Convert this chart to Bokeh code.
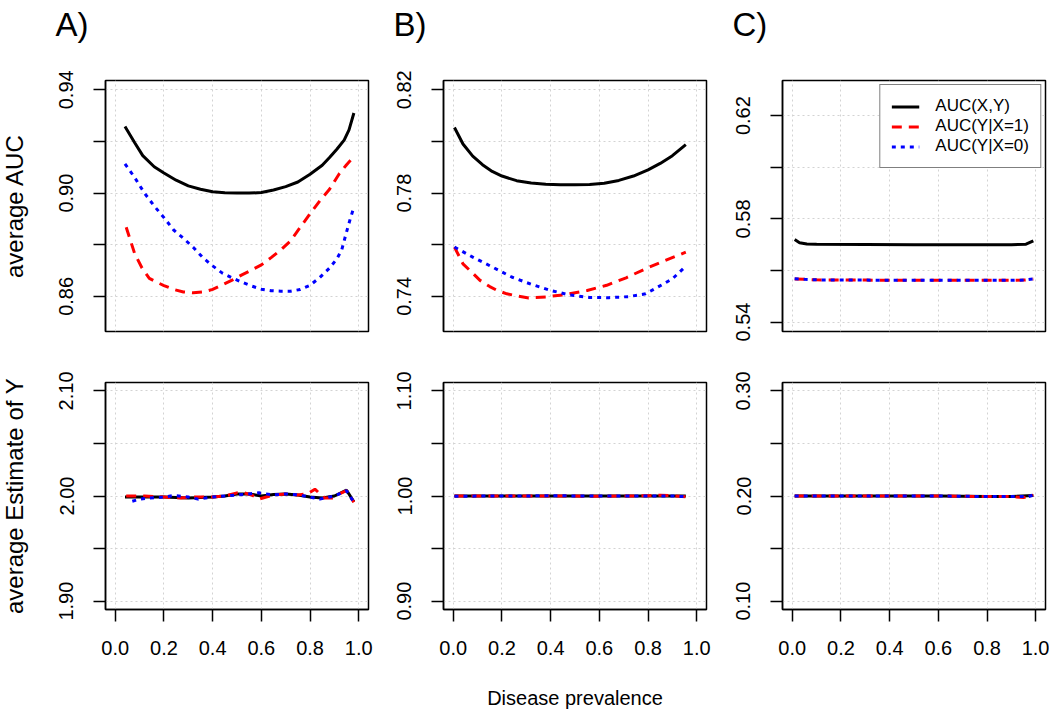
from bokeh.plotting import figure
from bokeh.models import Range1d, FixedTicker, Grid, Legend, LegendItem, PrintfTickFormatter, Title
from bokeh.layouts import column, row
from bokeh.embed import file_html
from bokeh.resources import INLINE

FONT = "Liberation Sans"

# ---------------- data ----------------
x_ticks = [0.0, 0.2, 0.4, 0.6, 0.8, 1.0]
x_lim = [0.0, 1.0]

# Panel A, top (average AUC)
a_top_black_x = [0.04, 0.08, 0.113, 0.16, 0.20, 0.25, 0.30, 0.35, 0.40, 0.45, 0.50, 0.55, 0.60, 0.65, 0.70, 0.75, 0.80, 0.85, 0.88, 0.91, 0.94, 0.96, 0.98]
a_top_black_y = [0.9258, 0.9195, 0.9145, 0.9102, 0.9078, 0.9050, 0.9028, 0.9015, 0.9005, 0.9001, 0.9000, 0.9000, 0.9002, 0.9012, 0.9025, 0.9043, 0.9073, 0.9108, 0.9138, 0.9170, 0.9205, 0.9245, 0.9310]
a_top_red_x = [0.045, 0.08, 0.11, 0.14, 0.17, 0.20, 0.24, 0.28, 0.32, 0.36, 0.40, 0.44, 0.48, 0.52, 0.56, 0.60, 0.64, 0.68, 0.72, 0.76, 0.80, 0.84, 0.88, 0.92, 0.95, 0.98]
a_top_red_y = [0.8868, 0.8765, 0.8710, 0.8670, 0.8655, 0.8642, 0.8627, 0.8617, 0.8614, 0.8617, 0.8627, 0.8645, 0.8663, 0.8683, 0.8702, 0.8722, 0.8750, 0.8780, 0.8815, 0.8868, 0.8920, 0.8970, 0.9015, 0.9075, 0.9110, 0.9141]
a_top_blue_x = [0.04, 0.08, 0.12, 0.16, 0.20, 0.24, 0.28, 0.32, 0.36, 0.40, 0.44, 0.48, 0.52, 0.56, 0.60, 0.64, 0.68, 0.72, 0.76, 0.80, 0.84, 0.88, 0.91, 0.93, 0.95, 0.965, 0.98]
a_top_blue_y = [0.9113, 0.9060, 0.9000, 0.8950, 0.8905, 0.8857, 0.8825, 0.8790, 0.8750, 0.8718, 0.8690, 0.8672, 0.8655, 0.8640, 0.8628, 0.8622, 0.8620, 0.8620, 0.8627, 0.8643, 0.8673, 0.8710, 0.8745, 0.8780, 0.8850, 0.8900, 0.8945]

# Panel B, top
b_top_black_x = [0.005, 0.04, 0.08, 0.12, 0.16, 0.20, 0.26, 0.32, 0.38, 0.44, 0.50, 0.56, 0.62, 0.68, 0.74, 0.80, 0.85, 0.90, 0.955]
b_top_black_y = [0.8054, 0.7990, 0.7943, 0.7910, 0.7884, 0.7866, 0.7848, 0.7839, 0.7834, 0.7832, 0.7832, 0.7833, 0.7838, 0.7849, 0.7866, 0.7890, 0.7915, 0.7945, 0.7988]
b_top_red_x = [0.005, 0.04, 0.08, 0.11, 0.15, 0.18, 0.22, 0.25, 0.31, 0.38, 0.46, 0.55, 0.63, 0.71, 0.79, 0.87, 0.955]
b_top_red_y = [0.7591, 0.7526, 0.7490, 0.7462, 0.7438, 0.7423, 0.7410, 0.7404, 0.7394, 0.7398, 0.7407, 0.7423, 0.7443, 0.7472, 0.7507, 0.7539, 0.7571]
b_top_blue_x = [0.005, 0.08, 0.16, 0.24, 0.32, 0.40, 0.48, 0.56, 0.64, 0.72, 0.79, 0.84, 0.90, 0.955]
b_top_blue_y = [0.7591, 0.7552, 0.7514, 0.7475, 0.7447, 0.7423, 0.7405, 0.7396, 0.7395, 0.7399, 0.7410, 0.7436, 0.7468, 0.7517]

# Panel C, top
c_top_black_x = [0.01, 0.03, 0.06, 0.10, 0.30, 0.50, 0.70, 0.90, 0.96, 0.99]
c_top_black_y = [0.5720, 0.5708, 0.5703, 0.5702, 0.5701, 0.5700, 0.5700, 0.5700, 0.5702, 0.5715]
c_top_red_x = [0.01, 0.05, 0.10, 0.30, 0.50, 0.70, 0.90, 0.95, 0.99]
c_top_red_y = [0.5567, 0.5566, 0.5564, 0.5563, 0.5562, 0.5562, 0.5562, 0.5563, 0.5567]
c_top_blue_x = [0.01, 0.05, 0.10, 0.30, 0.50, 0.70, 0.90, 0.95, 0.99]
c_top_blue_y = [0.5568, 0.5566, 0.5564, 0.5563, 0.5562, 0.5562, 0.5562, 0.5563, 0.5568]

# Panel A, bottom (average estimate of Y)
a_bot_black_x = [0.04, 0.10, 0.20, 0.30, 0.40, 0.45, 0.50, 0.55, 0.60, 0.65, 0.70, 0.75, 0.80, 0.85, 0.90, 0.95, 0.98]
a_bot_black_y = [1.999, 1.999, 1.999, 1.998, 1.999, 2.000, 2.002, 2.002, 2.000, 2.0015, 2.002, 2.001, 1.999, 1.998, 2.000, 2.0055, 1.9945]
a_bot_red_x = [0.045, 0.08, 0.12, 0.20, 0.27, 0.32, 0.40, 0.45, 0.50, 0.53, 0.56, 0.59, 0.62, 0.65, 0.70, 0.75, 0.79, 0.82, 0.86, 0.89, 0.92, 0.95, 0.98]
a_bot_red_y = [2.000, 2.000, 2.000, 1.999, 1.998, 1.999, 1.999, 2.000, 2.003, 2.003, 2.001, 1.997, 1.999, 2.001, 2.002, 2.001, 2.002, 2.0065, 1.998, 1.998, 2.002, 2.005, 1.994]
a_bot_blue_x = [0.07, 0.10, 0.14, 0.20, 0.24, 0.30, 0.34, 0.40, 0.45, 0.50, 0.55, 0.59, 0.65, 0.70, 0.75, 0.80, 0.84, 0.90, 0.95, 0.98]
a_bot_blue_y = [1.995, 1.997, 1.998, 1.999, 2.0005, 1.999, 1.997, 1.999, 2.000, 2.001, 2.002, 2.003, 2.001, 2.002, 2.001, 1.999, 1.997, 2.000, 2.005, 1.994]

# Panel B, bottom
b_bot_black_x = [0.005, 0.20, 0.40, 0.60, 0.80, 0.955]
b_bot_black_y = [1.000, 1.000, 1.000, 1.000, 1.000, 1.000]
b_bot_red_x = [0.005, 0.20, 0.40, 0.60, 0.80, 0.85, 0.90, 0.955]
b_bot_red_y = [1.000, 1.000, 1.000, 0.9998, 1.0002, 1.0008, 1.0003, 0.9993]
b_bot_blue_x = [0.005, 0.20, 0.40, 0.60, 0.80, 0.90, 0.955]
b_bot_blue_y = [0.9998, 1.000, 1.0002, 1.000, 1.000, 1.000, 0.9993]

# Panel C, bottom
c_bot_black_x = [0.01, 0.20, 0.40, 0.60, 0.80, 0.90, 0.99]
c_bot_black_y = [0.200, 0.200, 0.200, 0.200, 0.1995, 0.1995, 0.2005]
c_bot_red_x = [0.01, 0.20, 0.40, 0.60, 0.80, 0.90, 0.95, 0.99]
c_bot_red_y = [0.200, 0.200, 0.200, 0.200, 0.1995, 0.1995, 0.1985, 0.2008]
c_bot_blue_x = [0.01, 0.20, 0.40, 0.60, 0.80, 0.97, 0.99]
c_bot_blue_y = [0.200, 0.200, 0.200, 0.200, 0.1995, 0.1995, 0.2010]

# axis limits (R-style, extended by 4%) and tick labels
top_ylims = [(0.85, 0.94), (0.73, 0.82), (0.54, 0.63)]
top_yticks = [[0.86, 0.88, 0.90, 0.92, 0.94], [0.74, 0.76, 0.78, 0.80, 0.82], [0.54, 0.56, 0.58, 0.60, 0.62]]
top_ylabels = [["0.86", "", "0.90", "", "0.94"], ["0.74", "", "0.78", "", "0.82"], ["0.54", "", "0.58", "", "0.62"]]
bot_ylims = [(1.9, 2.1), (0.9, 1.1), (0.1, 0.3)]
bot_yticks = [[1.90, 1.95, 2.00, 2.05, 2.10], [0.90, 0.95, 1.00, 1.05, 1.10], [0.10, 0.15, 0.20, 0.25, 0.30]]
bot_ylabels = [["1.90", "", "2.00", "", "2.10"], ["0.90", "", "1.00", "", "1.10"], ["0.10", "", "0.20", "", "0.30"]]
panel_letters = ["A)", "B)", "C)"]
series_names = ["AUC(X,Y)", "AUC(Y|X=1)", "AUC(Y|X=0)"]

top_data = [
    [(a_top_black_x, a_top_black_y), (a_top_red_x, a_top_red_y), (a_top_blue_x, a_top_blue_y)],
    [(b_top_black_x, b_top_black_y), (b_top_red_x, b_top_red_y), (b_top_blue_x, b_top_blue_y)],
    [(c_top_black_x, c_top_black_y), (c_top_red_x, c_top_red_y), (c_top_blue_x, c_top_blue_y)],
]
bot_data = [
    [(a_bot_black_x, a_bot_black_y), (a_bot_red_x, a_bot_red_y), (a_bot_blue_x, a_bot_blue_y)],
    [(b_bot_black_x, b_bot_black_y), (b_bot_red_x, b_bot_red_y), (b_bot_blue_x, b_bot_blue_y)],
    [(c_bot_black_x, c_bot_black_y), (c_bot_red_x, c_bot_red_y), (c_bot_blue_x, c_bot_blue_y)],
]

# ---------------- style ----------------
styles = [
    dict(line_color="black", line_width=3),
    dict(line_color="#FF0000", line_width=3, line_dash="10 7"),
    dict(line_color="#0000FF", line_width=3, line_dash="4 5"),
]
FRAME_W = 263
TOP_H = 251
BOT_H = 227
LEFT_B = [111, 66, 66]
RIGHT_B = [9, 10, 4]


def ext(lim):
    lo, hi = lim
    d = (hi - lo) * 0.04
    return Range1d(lo - d, hi + d)


def style_common(p, yticks, ylabels):
    p.outline_line_color = "black"
    p.outline_line_width = 1.5
    p.outline_line_alpha = 1
    p.background_fill_color = "white"
    p.border_fill_color = "white"
    ya = p.yaxis[0]
    ya.ticker = FixedTicker(ticks=yticks)
    ya.major_label_overrides = dict(zip(yticks, ylabels))
    ya.major_label_orientation = "vertical"
    ya.major_label_text_font = FONT
    ya.major_label_text_font_size = "20px"
    ya.major_label_text_color = "black"
    ya.major_tick_out = 12
    ya.major_tick_in = 0
    ya.major_tick_line_width = 1.5
    ya.major_tick_line_color = "black"
    ya.minor_tick_line_color = None
    ya.axis_line_color = "black"
    ya.axis_line_width = 1.5
    ya.major_label_standoff = 20
    ya.axis_label_text_color = "black"
    p.add_layout(Grid(dimension=0, ticker=FixedTicker(ticks=x_ticks), grid_line_color="#d3d3d3", grid_line_dash="2 3", grid_line_width=1))
    p.add_layout(Grid(dimension=1, ticker=FixedTicker(ticks=yticks), grid_line_color="#d3d3d3", grid_line_dash="2 3", grid_line_width=1))


top_figs = []
bot_figs = []
for i in range(3):
    # ---- top panel ----
    p = figure(frame_width=FRAME_W, frame_height=TOP_H, x_range=ext(x_lim), y_range=ext(top_ylims[i]),
               output_backend="svg", toolbar_location=None, x_axis_location=None,
               min_border_left=LEFT_B[i], min_border_right=RIGHT_B[i], min_border_top=80, min_border_bottom=10,
               title=panel_letters[i])
    p.xgrid.visible = False
    p.ygrid.visible = False
    p.title.align = "left"
    p.title.offset = -50
    p.title.text_font = FONT
    p.title.text_font_size = "33px"
    p.title.text_font_style = "normal"
    p.title.text_color = "black"
    p.title.standoff = 0
    # empty spacer between the panel letter and the frame
    p.add_layout(Title(text=" ", text_font_size="32px", text_font=FONT, standoff=0), "above")
    style_common(p, top_yticks[i], top_ylabels[i])
    renderers = []
    for (xs, ys), st in zip(top_data[i], styles):
        renderers.append(p.line(xs, ys, **st))
    if i == 0:
        p.yaxis.axis_label = "average AUC"
    if i == 2:
        legend = Legend(items=[LegendItem(label=n, renderers=[r]) for n, r in zip(series_names, renderers)],
                        location="top_right")
        legend.label_text_font = FONT
        legend.label_text_font_size = "17px"
        legend.label_text_color = "black"
        legend.glyph_width = 28
        legend.glyph_height = 19
        legend.label_height = 19
        legend.label_standoff = 16
        legend.spacing = 0
        legend.padding = 11
        legend.margin = 4
        legend.border_line_color = "black"
        legend.border_line_width = 1.5
        legend.background_fill_alpha = 1
        p.add_layout(legend)
    top_figs.append(p)

    # ---- bottom panel ----
    q = figure(frame_width=FRAME_W, frame_height=BOT_H, x_range=ext(x_lim), y_range=ext(bot_ylims[i]),
               output_backend="svg", toolbar_location=None,
               min_border_left=LEFT_B[i], min_border_right=RIGHT_B[i], min_border_top=41, min_border_bottom=99)
    q.xgrid.visible = False
    q.ygrid.visible = False
    style_common(q, bot_yticks[i], bot_ylabels[i])
    xa = q.xaxis[0]
    xa.ticker = FixedTicker(ticks=x_ticks)
    xa.formatter = PrintfTickFormatter(format="%.1f")
    xa.major_label_text_font = FONT
    xa.major_label_text_font_size = "20px"
    xa.major_label_text_color = "black"
    xa.major_tick_out = 12
    xa.major_tick_in = 0
    xa.major_tick_line_width = 1.5
    xa.major_tick_line_color = "black"
    xa.minor_tick_line_color = None
    xa.axis_line_color = "black"
    xa.axis_line_width = 1.5
    xa.major_label_standoff = 19
    xa.axis_label_text_color = "black"
    for (xs, ys), st in zip(bot_data[i], styles):
        q.line(xs, ys, **st)
    if i == 0:
        q.yaxis.axis_label = "average Estimate of Y"
    if i == 1:
        q.xaxis.axis_label = "Disease prevalence"
        q.xaxis.axis_label_text_font = FONT
        q.xaxis.axis_label_text_font_size = "20px"
        q.xaxis.axis_label_text_font_style = "normal"
        q.xaxis.axis_label_standoff = 29
    bot_figs.append(q)

for f in (top_figs[0], bot_figs[0]):
    f.yaxis.axis_label_text_font = FONT
    f.yaxis.axis_label_text_font_size = "24px"
    f.yaxis.axis_label_text_font_style = "normal"
    f.yaxis.axis_label_standoff = 29

layout = column(row(*top_figs), row(*bot_figs), margin=(0, 0, 0, -6))
open("out.html", "w").write(file_html(layout, INLINE))
